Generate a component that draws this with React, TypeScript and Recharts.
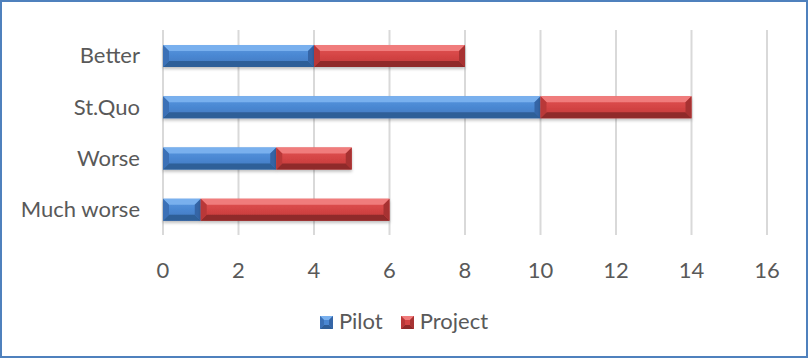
import React from 'react';
import { BarChart, Bar, XAxis, YAxis, CartesianGrid } from 'recharts';

const categories = ['Better', 'St.Quo', 'Worse', 'Much worse'];
const pilot = [4, 10, 3, 1];
const project = [4, 4, 2, 5];
const xTicks = [0, 2, 4, 6, 8, 10, 12, 14, 16];
const seriesNames = ['Pilot', 'Project'];

const rows = categories.map((name, i) => ({ name, pilot: pilot[i], project: project[i] }));

const FONT = 'Lato, "Open Sans", sans-serif';
const TEXT = '#595959';

// bevel face colours: [front, top, bottom, left, right]
const palettes: Record<string, string[]> = {
  blue: ['#4a87d2', '#79b0ee', '#2f5e98', '#3a70b6', '#3565a6'],
  red: ['#d44444', '#f07c7c', '#8f2a2a', '#b93838', '#a73333'],
};

function BevelBar(props: any) {
  const { x, y, width, height, tone } = props;
  if (!width || width <= 0) return null;
  const c = palettes[tone];
  const b = Math.min(6, width / 2);
  const x2 = x + width;
  const y2 = y + height;
  return (
    <g filter="url(#barShadow)">
      <rect x={x} y={y} width={width} height={height} fill={`url(#face-${tone})`} />
      <polygon points={`${x},${y} ${x2},${y} ${x2 - b},${y + b} ${x + b},${y + b}`} fill={c[1]} />
      <polygon points={`${x},${y2} ${x2},${y2} ${x2 - b},${y2 - b} ${x + b},${y2 - b}`} fill={c[2]} />
      <polygon points={`${x},${y} ${x + b},${y + b} ${x + b},${y2 - b} ${x},${y2}`} fill={c[3]} />
      <polygon points={`${x2},${y} ${x2 - b},${y + b} ${x2 - b},${y2 - b} ${x2},${y2}`} fill={c[4]} />
    </g>
  );
}

function LegendSwatch({ tone }: { tone: string }) {
  const c = palettes[tone];
  return (
    <svg width={13} height={13} style={{ marginRight: 6, verticalAlign: 'middle', position: 'relative', top: -1 }}>
      <rect x={0} y={0} width={13} height={13} fill={c[0]} />
      <polygon points="0,0 13,0 9,4 4,4" fill={c[1]} />
      <polygon points="0,13 13,13 9,9 4,9" fill={c[2]} />
      <polygon points="0,0 4,4 4,9 0,13" fill={c[3]} />
      <polygon points="13,0 9,4 9,9 13,13" fill={c[4]} />
    </svg>
  );
}

export default function App() {
  return (
    <div style={{ position: 'absolute', left: 0, top: 0, width: 808, height: 358, background: '#fff' }}>
      <BarChart
        width={808}
        height={358}
        data={rows}
        layout="vertical"
        barSize={22}
        margin={{ top: 30, right: 41, left: 0, bottom: 93 }}
      >
        <defs>
          <linearGradient id="face-blue" x1="0" y1="0" x2="0" y2="1">
            <stop offset="0%" stopColor="#5b98e0" />
            <stop offset="50%" stopColor="#4a87d2" />
            <stop offset="100%" stopColor="#3f77bd" />
          </linearGradient>
          <linearGradient id="face-red" x1="0" y1="0" x2="0" y2="1">
            <stop offset="0%" stopColor="#e25656" />
            <stop offset="50%" stopColor="#d44444" />
            <stop offset="100%" stopColor="#c03a3a" />
          </linearGradient>
          <filter id="barShadow" x="-5%" y="-20%" width="110%" height="160%">
            <feDropShadow dx="0" dy="2" stdDeviation="1.5" floodColor="#000" floodOpacity="0.25" />
          </filter>
        </defs>
        <CartesianGrid horizontal={false} stroke="#d9d9d9" strokeWidth={2} />
        <XAxis
          type="number"
          domain={[0, 16]}
          ticks={xTicks}
          axisLine={false}
          tickLine={false}
          tickMargin={21}
          height={30}
          tick={{ fill: TEXT, fontSize: 22, fontFamily: FONT }}
        />
        <YAxis
          type="category"
          dataKey="name"
          width={163}
          axisLine={false}
          tickLine={false}
          tickMargin={17}
          tick={{ fill: TEXT, fontSize: 22, fontFamily: FONT }}
        />
        <Bar dataKey="pilot" name={seriesNames[0]} stackId="a" isAnimationActive={false} shape={(p: any) => <BevelBar {...p} tone="blue" />} />
        <Bar dataKey="project" name={seriesNames[1]} stackId="a" isAnimationActive={false} shape={(p: any) => <BevelBar {...p} tone="red" />} />
      </BarChart>
      <div
        style={{
          position: 'absolute',
          left: 0,
          top: 308,
          width: 808,
          textAlign: 'center',
          fontFamily: FONT,
          fontSize: 22,
          color: TEXT,
          lineHeight: '26px',
        }}
      >
        <span style={{ marginRight: 18 }}>
          <LegendSwatch tone="blue" />
          {seriesNames[0]}
        </span>
        <span>
          <LegendSwatch tone="red" />
          {seriesNames[1]}
        </span>
      </div>
      <div
        style={{
          position: 'absolute',
          left: 0,
          top: 0,
          width: 808,
          height: 358,
          boxSizing: 'border-box',
          border: '2px solid #4f81bd',
          pointerEvents: 'none',
        }}
      />
    </div>
  );
}
